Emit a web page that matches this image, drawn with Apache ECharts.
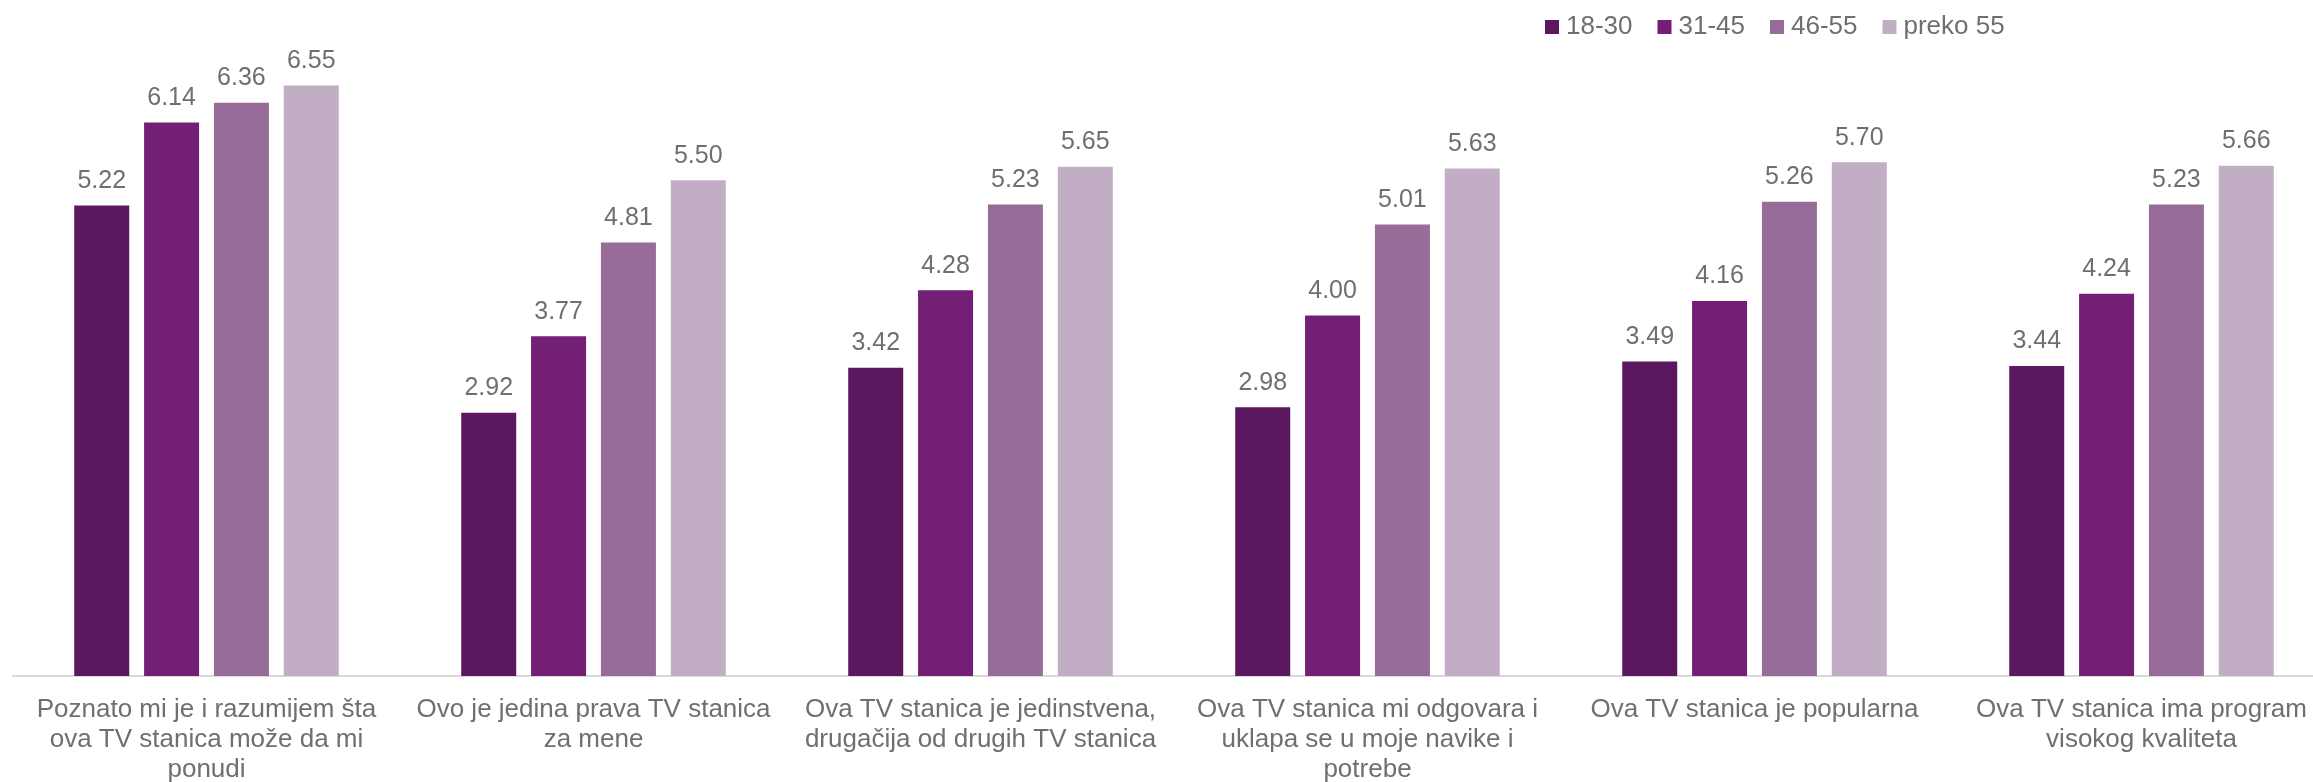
<!DOCTYPE html>
<html>
<head>
<meta charset="utf-8">
<script src="https://cdn.jsdelivr.net/npm/echarts@6/dist/echarts.min.js"></script>
<style>
  html, body { margin: 0; padding: 0; background: #fff; }
  #chart { width: 2313px; height: 782px; }
</style>
</head>
<body>
<div id="chart"></div>
<script>
var categories = [
  'Poznato mi je i razumijem šta\nova TV stanica može da mi\nponudi',
  'Ovo je jedina prava TV stanica\nza mene',
  'Ova TV stanica je jedinstvena,\ndrugačija od drugih TV stanica',
  'Ova TV stanica mi odgovara i\nuklapa se u moje navike i\npotrebe',
  'Ova TV stanica je popularna',
  'Ova TV stanica ima program\nvisokog kvaliteta'
];
var seriesNames = ['18-30', '31-45', '46-55', 'preko 55'];
var age1830 = [5.22, 2.92, 3.42, 2.98, 3.49, 3.44];
var age3145 = [6.14, 3.77, 4.28, 4.00, 4.16, 4.24];
var age4655 = [6.36, 4.81, 5.23, 5.01, 5.26, 5.23];
var preko55 = [6.55, 5.50, 5.65, 5.63, 5.70, 5.66];

var colors = ['#5C185F', '#721F75', '#976C99', '#C1AEC4'];
var chart = echarts.init(document.getElementById('chart'));

function makeSeries(name, data) {
  return {
    name: name,
    type: 'bar',
    data: data,
    barWidth: 55,
    barGap: '27%',
    label: {
      show: true,
      position: 'top',
      distance: 12,
      formatter: function (p) { return p.value.toFixed(2); },
      color: '#6F6F6F',
      fontSize: 25,
      fontFamily: 'Liberation Sans'
    }
  };
}

var option = {
  backgroundColor: '#ffffff',
  color: colors,
  animation: false,
  legend: {
    left: 1540,
    top: 9,
    icon: 'rect',
    itemWidth: 14,
    itemHeight: 14,
    itemGap: 25,
    textStyle: { color: '#6F6F6F', fontSize: 26, fontFamily: 'Liberation Sans', padding: [0, 0, 0, 2] },
    data: seriesNames
  },
  // category band is ~387px wide, the last one runs past the right edge
  grid: { left: 13, right: -22, top: 45, bottom: 106, outerBoundsMode: 'none', containLabel: false },
  xAxis: {
    type: 'category',
    data: categories,
    axisTick: { show: false },
    axisLine: { lineStyle: { color: '#D9D9D9', width: 2 } },
    axisLabel: {
      interval: 0,
      margin: 19,
      color: '#6F6F6F',
      fontSize: 26,
      lineHeight: 30,
      fontFamily: 'Liberation Sans'
    }
  },
  yAxis: {
    type: 'value',
    min: 0,
    max: 7,
    show: false,
    splitLine: { show: false }
  },
  series: [
    makeSeries(seriesNames[0], age1830),
    makeSeries(seriesNames[1], age3145),
    makeSeries(seriesNames[2], age4655),
    makeSeries(seriesNames[3], preko55)
  ]
};

chart.setOption(option);
</script>
</body>
</html>
